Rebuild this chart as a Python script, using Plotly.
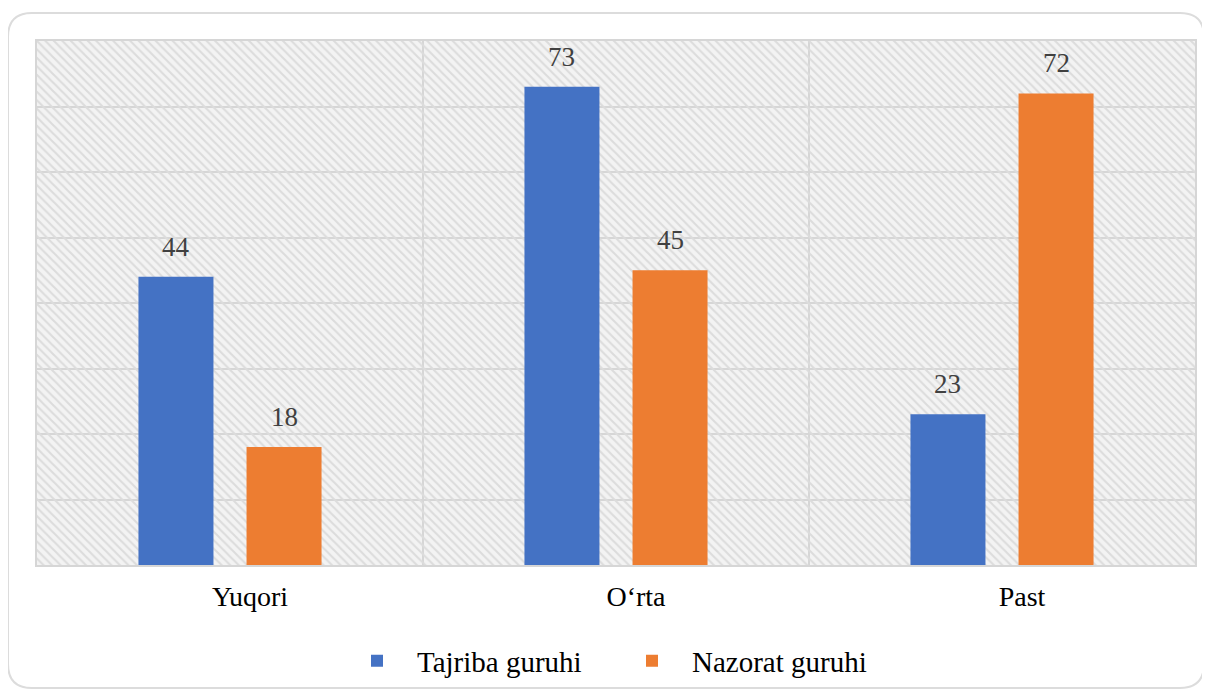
import plotly.graph_objects as go

categories = ["Yuqori", "O\u2018rta", "Past"]
tajriba = [44, 73, 23]
nazorat = [18, 45, 72]
series_names = ["Tajriba guruhi", "Nazorat guruhi"]
y_max = 80
y_step = 10

# page body has an 8px margin; all pixel positions below are window pixels
OFF = 8
W, H = 1210 - OFF, 693 - OFF
ML, MR, MT, MB = 37 - OFF, 15, 41 - OFF, 693 - 565
PW, PH = W - ML - MR, H - MT - MB

def px(x):
    return (x - OFF - ML) / PW

def py(y):
    return (H - MB - (y - OFF)) / PH

def cy(y):
    return (H - (y - OFF)) / H

def rounded_rect(x0, y0, x1, y1, r):
    pts = [
        f"M {px(x0 + r)} {py(y0)}",
        f"L {px(x1 - r)} {py(y0)}",
        f"Q {px(x1)} {py(y0)} {px(x1)} {py(y0 + r)}",
        f"L {px(x1)} {py(y1 - r)}",
        f"Q {px(x1)} {py(y1)} {px(x1 - r)} {py(y1)}",
        f"L {px(x0 + r)} {py(y1)}",
        f"Q {px(x0)} {py(y1)} {px(x0)} {py(y1 - r)}",
        f"L {px(x0)} {py(y0 + r)}",
        f"Q {px(x0)} {py(y0)} {px(x0 + r)} {py(y0)}",
        "Z",
    ]
    return " ".join(pts)

FONT = "Liberation Serif"
BLUE = "#4472C4"
ORANGE = "#ED7D31"
BARGAP = 0.44
BARGROUPGAP = 0.306

fig = go.Figure()

# hatched plot background (one bar spanning all categories)
fig.add_trace(go.Bar(
    x=[categories[len(categories) // 2]], y=[y_max], width=[len(categories)],
    xaxis="x", yaxis="y",
    marker=dict(color="rgba(0,0,0,0)", line=dict(width=0),
                pattern=dict(shape="\\", fgcolor="#dcdcdc", bgcolor="rgba(0,0,0,0)",
                             size=6, solidity=0.35, fillmode="replace")),
    showlegend=False, hoverinfo="skip",
))

series = [(series_names[0], tajriba, BLUE), (series_names[1], nazorat, ORANGE)]
for name, vals, col in series:
    fig.add_trace(go.Bar(
        x=categories, y=vals, name=name, xaxis="x2", yaxis="y2",
        marker=dict(color=col, line=dict(width=0)),
        hoverinfo="x+y+name",
    ))

# value labels above each bar (positioned from the data through the axes)
cat_px = PW / len(categories)
slot = cat_px * (1 - BARGAP) / len(series)
annotations = []
for k, (name, vals, col) in enumerate(series):
    shift = (k - (len(series) - 1) / 2) * slot
    for c, v in zip(categories, vals):
        annotations.append(dict(
            x=c, y=v, xref="x2", yref="y2", text=str(v), showarrow=False,
            xshift=shift, yshift=13, yanchor="bottom",
            font=dict(family=FONT, size=27, color="#404040"),
        ))

fig.update_layout(
    width=W, height=H,
    margin=dict(l=ML, r=MR, t=MT, b=MB),
    paper_bgcolor="white", plot_bgcolor="#f3f3f3",
    font=dict(family=FONT),
    barmode="group", bargap=BARGAP, bargroupgap=BARGROUPGAP,
    showlegend=True,
    legend=dict(orientation="h", x=px(612), xanchor="center",
                yref="container", y=cy(661), yanchor="middle",
                font=dict(family=FONT, size=29, color="#000000"),
                bgcolor="rgba(0,0,0,0)", traceorder="normal",
                itemwidth=70, entrywidth=190),
    xaxis=dict(type="category", categoryorder="array", categoryarray=categories,
               range=[-0.5, len(categories) - 0.5], automargin=False,
               tickson="boundaries", showgrid=True, gridcolor="#d6d6d6", gridwidth=1.5,
               ticks="", ticklabelstandoff=6, ticklabelshift=20,
               tickfont=dict(family=FONT, size=28, color="#000000"),
               showline=True, mirror=True, linecolor="#d6d6d6", linewidth=1.5,
               zeroline=False, fixedrange=True),
    yaxis=dict(range=[0, y_max], dtick=y_step, showticklabels=False, ticks="",
               automargin=False,
               showgrid=True, gridcolor="#d6d6d6", gridwidth=1.5,
               showline=True, mirror=True, linecolor="#d6d6d6", linewidth=1.5,
               zeroline=False, fixedrange=True),
    xaxis2=dict(type="category", categoryorder="array", categoryarray=categories,
                range=[-0.5, len(categories) - 0.5], overlaying="x", visible=False,
                fixedrange=True),
    yaxis2=dict(range=[0, y_max], overlaying="y", visible=False, fixedrange=True),
    annotations=annotations,
    shapes=[dict(type="path", xref="paper", yref="paper", layer="below",
                 path=rounded_rect(8, 13, 1204, 688, 24),
                 line=dict(color="#dcdcdc", width=2), fillcolor="rgba(0,0,0,0)")],
)

fig.write_html("out.html", include_plotlyjs=True, config={"displayModeBar": False})
